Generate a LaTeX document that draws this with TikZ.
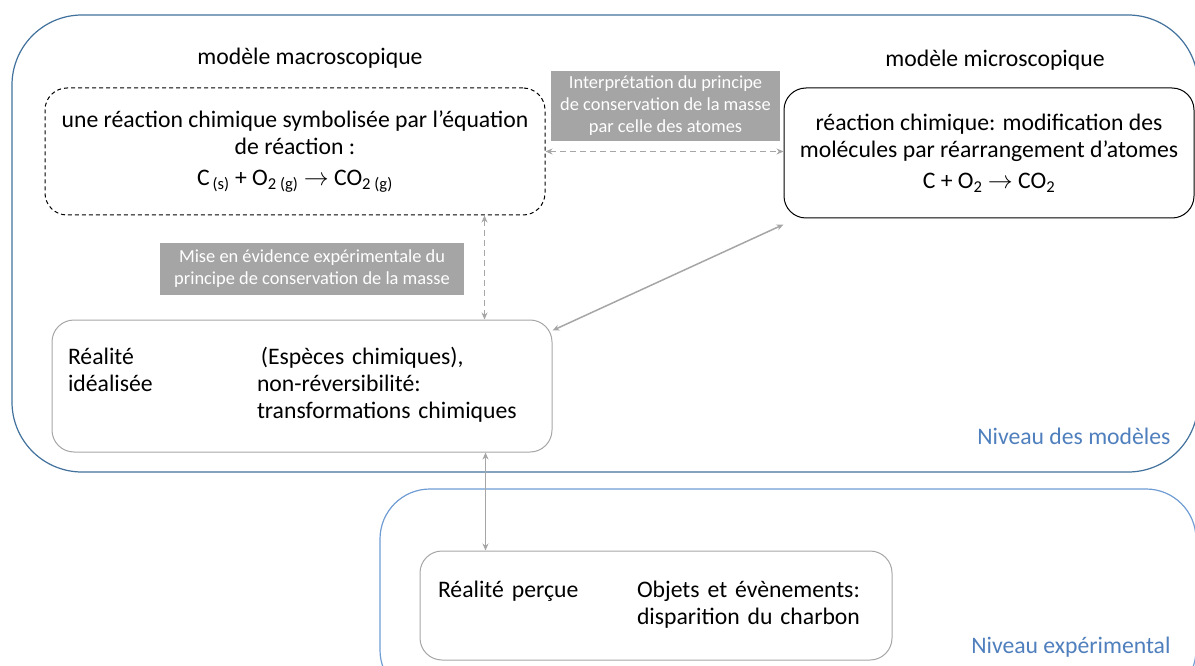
\documentclass[tikz,border=0pt]{standalone}
\usepackage{fontspec}
\setmainfont{Carlito}
\usepackage{xcolor}
\usepackage{tikz}
\usetikzlibrary{positioning,arrows.meta}
\definecolor{modBlue}{HTML}{41719C}
\definecolor{expBlue}{HTML}{6F9CD2}
\definecolor{lvlBlue}{HTML}{4F7FBD}
\definecolor{lineGray}{HTML}{A6A6A6}
\definecolor{tagGray}{HTML}{A5A5A5}
\newcommand{\eqfont}{\fontsize{23.7}{27}\selectfont}
\newcommand{\tagfont}{\fontsize{18.4}{22}\selectfont}

\begin{document}
\begin{tikzpicture}[x=1pt,y=-1pt,
    level/.style={line width=1.2pt,rounded corners=#1},
    model/.style={rounded corners=22pt,line width=1pt,font=\eqfont,align=center},
    reality/.style={draw=lineGray,rounded corners=22pt,line width=1pt,font=\eqfont,align=left},
    tag/.style={fill=tagGray,text=white,font=\tagfont,align=center,inner sep=0pt},
    link/.style={draw=lineGray,line width=1.5pt,{Stealth[length=7pt,width=6pt]}-{Stealth[length=7pt,width=6pt]}}]
      \useasboundingbox (0,0) rectangle (1195,666);
      % the two levels
      \node[draw=modBlue,level=70pt,minimum width=1186pt,minimum height=457pt] (niveauMod) at (605,243.5) {};
      \node[draw=expBlue,level=50pt,minimum width=816pt,minimum height=211pt] (niveauExp) at (788,594.5) {};
      \node[text=lvlBlue,font=\eqfont,anchor=east] (lblMod) at (1174,436) {Niveau des modèles};
      \node[text=lvlBlue,font=\eqfont,anchor=east] (lblExp) at (1174,647) {Niveau expérimental};
      % models
      \node[font=\eqfont] (titleMacro) at (310,58) {modèle macroscopique};
      \node[font=\eqfont] (titleMicro) at (995,60) {modèle microscopique};
      \node[draw,dash pattern=on 4pt off 3pt,model,minimum width=500pt,minimum height=127pt] (macro) at (295,151.5)
        {une réaction chimique symbolisée par l’équation\\de réaction :\\[4pt]
         C\textsubscript{\,(s)} + O\textsubscript{2 (g)} $\rightarrow$ CO\textsubscript{2 (g)}};
      \node[draw,model,minimum width=410pt,minimum height=130pt] (micro) at (989,153)
        {réaction chimique: modification des\\molécules par réarrangement d’atomes\\[4pt]
         C + O\textsubscript{2} $\rightarrow$ CO\textsubscript{2}};
      \node[reality,text width=468pt,inner xsep=16pt,minimum height=132pt] (ideal) at (302,386)
        {\begin{tabular}{@{}p{189pt}@{}l@{}}
           Réalité & \,(Espèces chimiques),\\
           idéalisée & non-réversibilité:\\
           & transformations chimiques
         \end{tabular}};
      \node[reality,text width=436pt,inner xsep=18pt,minimum height=109pt] (percu) at (656,605.5)
        {\begin{tabular}{@{}p{199pt}@{}l@{}}
           Réalité perçue & Objets et évènements:\\
           & disparition du charbon
         \end{tabular}};
      % grey captions
      \node[tag,minimum width=229pt,minimum height=70pt] (interp) at (665.5,106)
        {Interprétation du principe\\de conservation de la masse\\par celle des atomes};
      \node[tag,minimum width=304pt,minimum height=52pt] (miseEv) at (312,269)
        {Mise en évidence expérimentale du\\principe de conservation de la masse};
      % links
      \draw[link,dash pattern=on 6pt off 4pt] (macro.east) -- (macro.east -| micro.west);
      \draw[link,dash pattern=on 6pt off 4pt] ([xshift=-61pt]macro.south east) -- ([xshift=-61pt]macro.south east |- ideal.north);
      \draw[link] ([yshift=-6pt]micro.south west) -- ([yshift=-11pt]ideal.north east);
      \draw[link] ([xshift=-67pt]ideal.south east) -- ([xshift=-67pt]ideal.south east |- percu.north);
    \end{tikzpicture}
\end{document}
